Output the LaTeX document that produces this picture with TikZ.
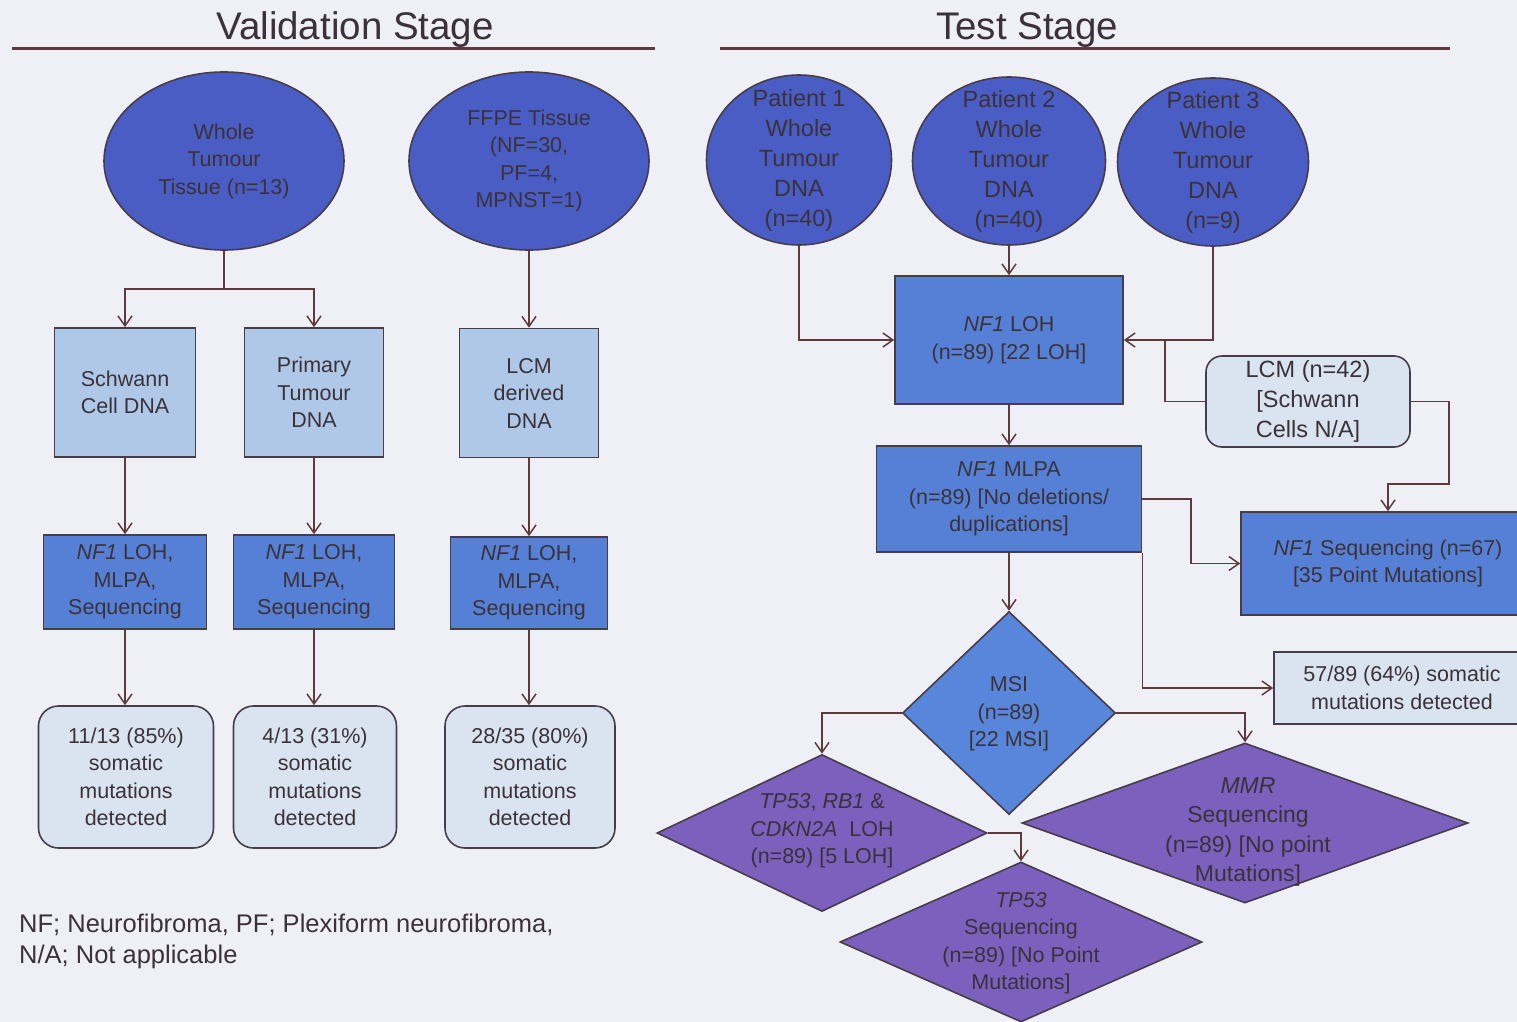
\documentclass[tikz,border=0pt]{standalone}
\usepackage{fontspec}
\setmainfont{Liberation Sans}
\usetikzlibrary{shapes.geometric,arrows.meta}

\definecolor{bg}{HTML}{EFEFF6}
\definecolor{ink}{HTML}{3A3238}
\definecolor{wire}{HTML}{5E3A3C}
\definecolor{edge}{HTML}{463C4A}
\definecolor{deepblue}{HTML}{4A5DC5}
\definecolor{midblue}{HTML}{5680D6}
\definecolor{msiblue}{HTML}{5886DA}
\definecolor{paleblue}{HTML}{B0C8E8}
\definecolor{mistblue}{HTML}{DAE4F0}
\definecolor{violet}{HTML}{7B60BE}

\newcommand\fsz[2]{\fontsize{#1}{#2}\selectfont}

\begin{document}
\begin{tikzpicture}[x=1pt,y=-1pt,
  lbl/.style={text=ink,align=center,inner sep=0pt},
  f21/.style={font=\fsz{21.5}{27.5}},
  f24/.style={font=\fsz{23.5}{30}},
  nodeline/.style={draw=edge,line width=1.6pt,text=ink,align=center,inner sep=0pt},
  blob/.style={nodeline,ellipse,fill=deepblue},
  srcbox/.style={nodeline,rectangle,fill=paleblue,f21},
  testbox/.style={nodeline,rectangle,fill=midblue,f21},
  resbox/.style={nodeline,rectangle,rounded corners=20pt,fill=mistblue,f21},
  flatbox/.style={nodeline,rectangle,fill=mistblue,f21},
  gem/.style={nodeline,diamond,fill=violet},
  wire/.style={draw=wire,line width=1.5pt},
  flow/.style={wire,-{Straight Barb[length=10pt,width=14pt]}},
  rulebar/.style={draw=wire,line width=3pt},
]
\useasboundingbox (0,0) rectangle (1517,1022);
\fill[bg] (0,0) rectangle (1517,1022);
\clip (0,0) rectangle (1517,1022);

% ---------- headings ----------
\node[lbl,font=\fsz{38.5}{40}] (vtitle) at (355,30) {Validation Stage};
\node[lbl,font=\fsz{38.5}{40}] (ttitle) at (1027,30) {Test Stage};
\draw[rulebar] (12,49) -- (655,49);
\draw[rulebar] (720,49) -- (1450,49);

% ---------- validation stage ----------
\node[blob,minimum width=240pt,minimum height=178pt] (wt) at (224,161) {};
\node[lbl,f21] (wt-t) at (wt.center) {Whole\\Tumour\\Tissue (n=13)};
\node[blob,minimum width=240pt,minimum height=178pt] (ffpe) at (529,161) {};
\node[lbl,f21] (ffpe-t) at (ffpe.center) {FFPE Tissue\\(NF=30,\\PF=4,\\MPNST=1)};

\node[srcbox,minimum width=141pt,minimum height=129pt] (sc) at (125,392.5) {Schwann\\Cell DNA};
\node[srcbox,minimum width=139pt,minimum height=129pt] (ptd) at (314,392.5) {Primary\\Tumour\\DNA};
\node[srcbox,minimum width=139pt,minimum height=129pt] (lcmd) at (529,393) {LCM\\derived\\DNA};

\node[testbox,minimum width=163pt,minimum height=94pt] (a1) at (125,582) {\textit{NF1} LOH,\\MLPA,\\Sequencing};
\node[testbox,minimum width=161pt,minimum height=94pt] (a2) at (314,582) {\textit{NF1} LOH,\\MLPA,\\Sequencing};
\node[testbox,minimum width=157pt,minimum height=92pt] (a3) at (529,583) {\textit{NF1} LOH,\\MLPA,\\Sequencing};

\node[resbox,minimum width=175pt,minimum height=142pt] (r1) at (126,777) {11/13 (85\%)\\somatic\\mutations\\detected};
\node[resbox,minimum width=163pt,minimum height=142pt] (r2) at (315,777) {4/13 (31\%)\\somatic\\mutations\\detected};
\node[resbox,minimum width=170pt,minimum height=142pt] (r3) at (530,777) {28/35 (80\%)\\somatic\\mutations\\detected};

\coordinate (split) at (224,289);
\draw[wire] (wt.south) -- (split);
\draw[flow] (split) -| (sc.north);
\draw[flow] (split) -| (ptd.north);
\draw[flow] (ffpe.south) -- (lcmd.north);
\draw[flow] (sc.south) -- (a1.north);
\draw[flow] (ptd.south) -- (a2.north);
\draw[flow] (lcmd.south) -- (a3.north);
\draw[flow] (a1.south) -- (a1.south |- r1.north);
\draw[flow] (a2.south) -- (a2.south |- r2.north);
\draw[flow] (a3.south) -- (a3.south |- r3.north);

\node[lbl,align=left,anchor=west,font=\fsz{25.5}{31}] (legend) at (19,941)
  {NF; Neurofibroma, PF; Plexiform neurofibroma,\\N/A; Not applicable};

% ---------- test stage ----------
\node[blob,minimum width=185pt,minimum height=170pt] (p1) at (799,160) {};
\node[lbl,f24] (p1-t) at (p1.center) {Patient 1\\Whole\\Tumour\\DNA\\(n=40)};
\node[blob,minimum width=193pt,minimum height=168pt] (p2) at (1009,161) {};
\node[lbl,f24] (p2-t) at (p2.center) {Patient 2\\Whole\\Tumour\\DNA\\(n=40)};
\node[blob,minimum width=191pt,minimum height=168pt] (p3) at (1213,162) {};
\node[lbl,f24] (p3-t) at (p3.center) {Patient 3\\Whole\\Tumour\\DNA\\(n=9)};

\node[testbox,minimum width=228pt,minimum height=128pt] (loh) at (1009,340) {\textit{NF1} LOH\\(n=89) [22 LOH]};
\node[resbox,rounded corners=16pt,minimum width=204pt,minimum height=91pt,f24] (lcmr) at (1308,401.5) {LCM (n=42)\\{[}Schwann\\Cells N/A]};
\node[testbox,minimum width=265pt,minimum height=106pt] (mlpa) at (1009,499) {\textit{NF1} MLPA\\(n=89) [No deletions/\\duplications]};
\node[testbox,minimum width=294pt,minimum height=103pt] (seq) at (1388,563.5) {\textit{NF1} Sequencing (n=67)\\{[}35 Point Mutations]};
\node[flatbox,minimum width=256pt,minimum height=72pt] (det) at (1402,688) {57/89 (64\%) somatic\\mutations detected};

\node[gem,fill=msiblue,minimum width=213pt,minimum height=203pt] (msi) at (1009,713) {};
\node[lbl,f21] (msi-t) at (1009,714) {MSI\\(n=89)\\{[}22 MSI]};
\node[gem,minimum width=330pt,minimum height=157pt] (tpr) at (822,833) {};
\node[lbl,f21] (tpr-t) at (822,831) {\textit{TP53}, \textit{RB1} \&\\\textit{CDKN2A}~~LOH\\(n=89) [5 LOH]};
\node[gem,minimum width=446pt,minimum height=160pt] (mmr) at (1245,823) {};
\node[lbl,font=\fsz{23}{29.5}] (mmr-t) at (1248,832) {\textit{MMR}\\Sequencing\\(n=89) [No point\\Mutations]};
\node[gem,minimum width=362pt,minimum height=160pt] (tps) at (1021,942) {};
\node[lbl,f21] (tps-t) at (1021,943) {\textit{TP53}\\Sequencing\\(n=89) [No Point\\Mutations]};

\draw[flow] (p1.south) |- (loh.west);
\draw[flow] (p2.south) -- (loh.north);
\draw[flow] (p3.south) |- (loh.east);
\coordinate (join) at (1165,340);
\draw[wire] (lcmr.west) -| (join);
\coordinate (bend) at (1449,484);
\draw[flow] (lcmr.east) -| (bend) -| (seq.north);
\draw[flow] (loh.south) -- (mlpa.north);
\coordinate (kink) at (1191,499);
\draw[flow] (mlpa.east) -- (kink) |- (seq.west);
\draw[flow] (mlpa.south east) |- (det.west);
\draw[flow] (mlpa.south) -- (msi.north);
\draw[flow] (msi.west) -| (tpr.north);
\draw[flow] (msi.east) -| (mmr.north);
\draw[flow] (tpr.east) -| (tps.north);
\end{tikzpicture}
\end{document}
